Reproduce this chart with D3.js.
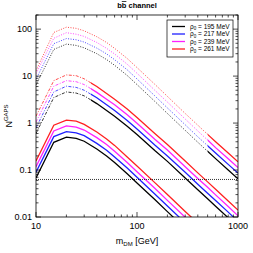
<!DOCTYPE html>
<html>
<head>
<meta charset="utf-8">
<script src="https://cdn.jsdelivr.net/npm/d3@7"></script>
<style>
  body { margin: 0; background: #fff; }
  text { font-family: "Liberation Sans", Arial, sans-serif; }
</style>
</head>
<body>
<svg width="253" height="253"></svg>
<script>
// dark matter masses (GeV)
var masses = [10, 15, 20, 25, 30, 40, 50, 60, 80, 100, 150, 200, 300, 400, 500, 600, 800, 1000];

var rhoLabels = ["195 MeV", "217 MeV", "239 MeV", "261 MeV"];
var colors = ["#000000", "#2020ff", "#ff20ff", "#ff2020"];

// lower family (solid)
var lowBlack   = [0.068, 0.39, 0.50, 0.47, 0.41, 0.28, 0.2, 0.145, 0.083, 0.053, 0.0235, 0.013, 0.0057, 0.0032, 0.002, 0.0014, 0.0008, 0.0005];
var lowBlue    = [0.09, 0.515, 0.66, 0.62, 0.54, 0.37, 0.264, 0.19, 0.11, 0.07, 0.031, 0.0172, 0.0075, 0.0042, 0.0026, 0.0018, 0.00106, 0.00066];
var lowMagenta = [0.118, 0.68, 0.87, 0.82, 0.71, 0.49, 0.35, 0.25, 0.144, 0.092, 0.041, 0.0226, 0.0099, 0.0056, 0.0035, 0.0024, 0.0014, 0.00087];
var lowRed     = [0.156, 0.9, 1.15, 1.1, 0.94, 0.645, 0.46, 0.335, 0.19, 0.122, 0.054, 0.03, 0.0131, 0.0074, 0.0046, 0.0032, 0.0018, 0.00115];

// middle family (dash-dot below 35 GeV)
var midBlack   = [0.6, 3.5, 4.6, 4.35, 3.8, 2.6, 1.85, 1.4, 0.86, 0.57, 0.26, 0.153, 0.068, 0.038, 0.0245, 0.017, 0.0096, 0.0061];
var midBlue    = [0.79, 4.6, 6.1, 5.75, 5.0, 3.45, 2.45, 1.85, 1.14, 0.75, 0.34, 0.2, 0.09, 0.05, 0.032, 0.0224, 0.0127, 0.008];
var midMagenta = [1.05, 6.1, 8.0, 7.6, 6.6, 4.5, 3.2, 2.45, 1.5, 0.99, 0.45, 0.266, 0.118, 0.066, 0.043, 0.0296, 0.0167, 0.0106];
var midRed     = [1.4, 8.0, 10.6, 10.2, 8.75, 6.0, 4.25, 3.2, 2.0, 1.31, 0.6, 0.35, 0.156, 0.087, 0.056, 0.039, 0.022, 0.014];

// upper family (dotted below 500 GeV)
var topBlack   = [6.5, 37, 48, 45, 40, 30, 22.5, 17, 10.3, 6.6, 2.9, 1.6, 0.7, 0.39, 0.25, 0.175, 0.1, 0.065];
var topBlue    = [8.6, 49, 63, 59.5, 53, 39.5, 29.7, 22.4, 13.6, 8.7, 3.8, 2.1, 0.92, 0.51, 0.33, 0.23, 0.132, 0.086];
var topMagenta = [11.3, 64, 84, 78, 70, 52, 39, 29.6, 17.9, 11.5, 5.0, 2.8, 1.22, 0.68, 0.435, 0.3, 0.174, 0.113];
var topRed     = [13, 85, 110, 104, 92, 69, 52, 39, 23.7, 15.2, 6.7, 3.7, 1.6, 0.9, 0.575, 0.4, 0.23, 0.15];

var midSolidFrom = 35;
var topSolidFrom = 500;
var sensitivity = 0.063;

var xTicks = [10, 100, 1000];
var yTicks = [0.01, 0.1, 1, 10, 100];

var margin = {top: 15, right: 15, bottom: 36, left: 36},
    width = 253 - margin.left - margin.right,
    height = 253 - margin.top - margin.bottom;

var svg = d3.select("svg")
    .append("g")
        .attr("transform", "translate(" + margin.left + "," + margin.top + ")");

var x = d3.scaleLog().domain([10, 1000]).range([0, width]);
var y = d3.scaleLog().domain([0.01, 200]).range([height, 0]);

var defs = d3.select("svg").append("defs");
defs.append("clipPath").attr("id", "plot")
    .append("rect").attr("width", width).attr("height", height);
defs.append("clipPath").attr("id", "midLeft")
    .append("rect").attr("width", x(midSolidFrom)).attr("height", height);
defs.append("clipPath").attr("id", "midRight")
    .append("rect").attr("x", x(midSolidFrom)).attr("width", width - x(midSolidFrom)).attr("height", height);
defs.append("clipPath").attr("id", "topLeft")
    .append("rect").attr("width", x(topSolidFrom)).attr("height", height);
defs.append("clipPath").attr("id", "topRight")
    .append("rect").attr("x", x(topSolidFrom)).attr("width", width - x(topSolidFrom)).attr("height", height);

var line = d3.line()
    .x(function(d, i) { return x(masses[i]); })
    .y(function(d) { return y(d); });

function draw(series, clip, dash, sw) {
    var g = svg.append("g").attr("clip-path", "url(#" + clip + ")");
    series.forEach(function(s, i) {
        g.append("path")
            .datum(s)
            .attr("fill", "none")
            .attr("stroke", colors[i])
            .attr("stroke-width", sw)
            .attr("stroke-dasharray", dash)
            .attr("d", line);
    });
}

var lowSet = [lowBlack, lowBlue, lowMagenta, lowRed];
var midSet = [midBlack, midBlue, midMagenta, midRed];
var topSet = [topBlack, topBlue, topMagenta, topRed];

draw(lowSet, "plot", null, 1.3);
draw(midSet, "midLeft", "3,1.5,1,1.5", 0.8);
draw(midSet, "midRight", null, 1.3);
draw(topSet, "topLeft", "1,1.5", 0.8);
draw(topSet, "topRight", null, 1.3);

// sensitivity line
svg.append("line")
    .attr("x1", 0).attr("x2", width)
    .attr("y1", y(sensitivity)).attr("y2", y(sensitivity))
    .attr("stroke", "#000").attr("stroke-width", 0.8)
    .attr("stroke-dasharray", "1,1");

// minor/major ticks on all four sides
var xMinor = [], yMinor = [];
[10, 100].forEach(function(d) { for (var k = 2; k <= 9; k++) xMinor.push(d * k); });
[0.01, 0.1, 1, 10, 100].forEach(function(d) { for (var k = 2; k <= 9; k++) if (d * k <= 200) yMinor.push(d * k); });

var ticks = svg.append("g").attr("stroke", "#000").attr("stroke-width", 0.7);
xTicks.concat(xMinor).forEach(function(d) {
    var len = xTicks.indexOf(d) >= 0 ? 5 : 2.5;
    ticks.append("line").attr("x1", x(d)).attr("x2", x(d)).attr("y1", height).attr("y2", height - len);
    ticks.append("line").attr("x1", x(d)).attr("x2", x(d)).attr("y1", 0).attr("y2", len);
});
yTicks.concat(yMinor).forEach(function(d) {
    var len = yTicks.indexOf(d) >= 0 ? 5 : 2.5;
    ticks.append("line").attr("y1", y(d)).attr("y2", y(d)).attr("x1", 0).attr("x2", len);
    ticks.append("line").attr("y1", y(d)).attr("y2", y(d)).attr("x1", width).attr("x2", width - len);
});

svg.append("rect")
    .attr("width", width).attr("height", height)
    .attr("fill", "none").attr("stroke", "#000").attr("stroke-width", 0.8);

svg.selectAll(".xl").data(xTicks).enter().append("text")
    .attr("x", function(d) { return x(d); })
    .attr("y", height + 12)
    .attr("text-anchor", "middle")
    .attr("font-size", 9)
    .text(function(d) { return d; });

svg.selectAll(".yl").data(yTicks).enter().append("text")
    .attr("x", -4)
    .attr("y", function(d) { return y(d) + 3; })
    .attr("text-anchor", "end")
    .attr("font-size", 9)
    .text(function(d) { return d; });

// axis titles
var xt = svg.append("text")
    .attr("x", width / 2).attr("y", height + 27)
    .attr("text-anchor", "middle").attr("font-size", 9);
xt.append("tspan").text("m");
xt.append("tspan").attr("font-size", 6).attr("dy", 2).text("DM");
xt.append("tspan").attr("dy", -2).text(" [GeV]");

var yt = svg.append("text")
    .attr("transform", "translate(-24," + (height / 2) + ") rotate(-90)")
    .attr("text-anchor", "middle").attr("font-size", 9);
yt.append("tspan").text("N");
yt.append("tspan").attr("font-size", 6).attr("dy", -4).text("GAPS");

var tt = svg.append("text")
    .attr("x", width / 2).attr("y", -7)
    .attr("text-anchor", "middle").attr("font-size", 7.5).attr("font-weight", "bold");
tt.append("tspan").text("b");
tt.append("tspan").attr("text-decoration", "overline").text("b");
tt.append("tspan").text(" channel");

// legend
var lg = svg.append("g").attr("transform", "translate(" + (width - 71) + ",5)");
lg.append("rect").attr("width", 66).attr("height", 37)
    .attr("fill", "#fff").attr("stroke", "#000").attr("stroke-width", 0.7);
rhoLabels.forEach(function(l, i) {
    var yy = 6.5 + i * 7.5;
    lg.append("line").attr("x1", 5).attr("x2", 18).attr("y1", yy).attr("y2", yy)
        .attr("stroke", colors[i]).attr("stroke-width", 1.3);
    var t = lg.append("text").attr("x", 23).attr("y", yy + 2.3).attr("font-size", 6.5);
    t.append("tspan").text("\u03c1");
    t.append("tspan").attr("font-size", 4.5).attr("dy", 1.5).text("0");
    t.append("tspan").attr("dy", -1.5).text(" = " + l);
});
</script>
</body>
</html>
